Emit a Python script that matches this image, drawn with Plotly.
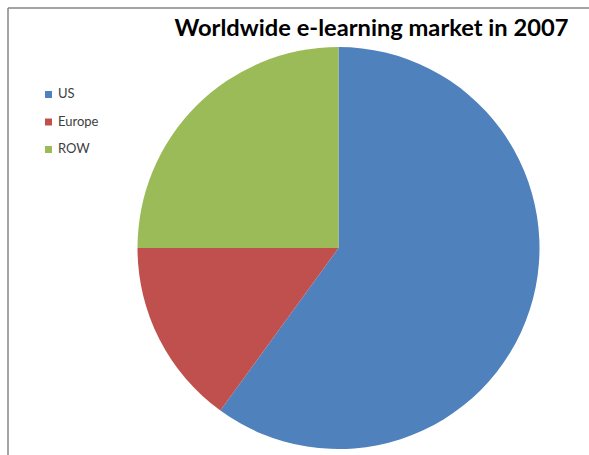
import plotly.graph_objects as go

labels = ["US", "Europe", "ROW"]
values = [60, 15, 25]
colors = ["#4F81BD", "#C0504D", "#9BBB59"]
title_text = "Worldwide e-learning market in 2007"

W, H = 589, 455

def px(x):
    return x / W

def py(y):
    return 1 - y / H

cx, cy, d = 338.5, 248, 402

fig = go.Figure(go.Pie(
    labels=labels,
    values=values,
    marker=dict(colors=colors, line=dict(width=0)),
    sort=False,
    direction="clockwise",
    rotation=0,
    textinfo="none",
    hoverinfo="label+percent",
    showlegend=False,
    domain=dict(x=[px(cx - d / 2), px(cx + d / 2)], y=[py(cy + d / 2), py(cy - d / 2)]),
))

shapes = [
    dict(type="line", xref="paper", yref="paper", x0=px(8), x1=px(8), y0=py(8), y1=py(460),
         line=dict(color="#868686", width=1.5)),
    dict(type="line", xref="paper", yref="paper", x0=px(8), x1=px(600), y0=py(8), y1=py(8),
         line=dict(color="#868686", width=1.5)),
]
annotations = []
leg_x, leg_y0, leg_step, sq = 45, 94.5, 27.5, 7
for i, (lab, col) in enumerate(zip(labels, colors)):
    yc = leg_y0 + i * leg_step
    shapes.append(dict(type="rect", xref="paper", yref="paper",
                       x0=px(leg_x), x1=px(leg_x + sq), y0=py(yc + sq / 2), y1=py(yc - sq / 2),
                       fillcolor=col, line=dict(width=0)))
    annotations.append(dict(text=lab, xref="paper", yref="paper", x=px(leg_x + 11), y=py(yc - 1),
                            xanchor="left", yanchor="middle", showarrow=False,
                            font=dict(family="Lato", size=13, color="#404040")))

fig.update_layout(
    width=W, height=H,
    margin=dict(l=0, r=0, t=0, b=0),
    paper_bgcolor="white",
    plot_bgcolor="white",
    title=dict(text="<b>" + title_text + "</b>", x=px(371.5), xanchor="center",
               y=py(28), yanchor="middle",
               font=dict(family="Lato", size=23.7, color="black")),
    shapes=shapes,
    annotations=annotations,
)

fig.write_html("out.html")
